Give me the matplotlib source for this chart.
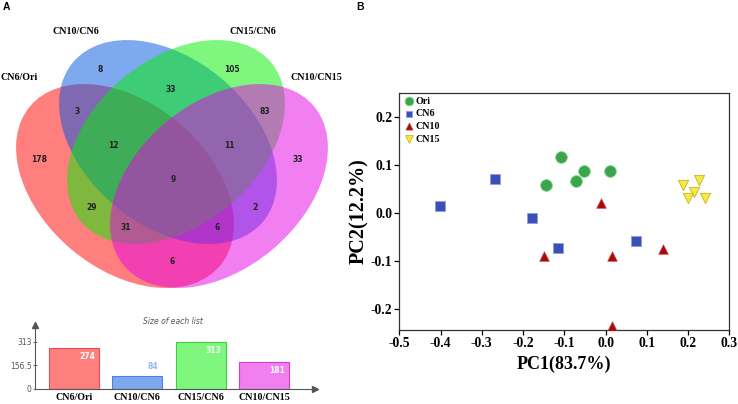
import matplotlib
matplotlib.use("Agg")
import matplotlib.pyplot as plt
from matplotlib.patches import Ellipse

# ---------------- data ----------------
set_names = ["CN6/Ori", "CN10/CN6", "CN15/CN6", "CN10/CN15"]
list_sizes = [274, 84, 313, 181]
size_ticks = [0, 156.5, 313]

# Venn region codes (membership in set1..set4) and counts
region_codes = ["1000", "0100", "0010", "0001", "1100", "0110", "0011",
                "1110", "0111", "1111", "1010", "0101", "1011", "1101", "1001"]
region_counts = [178, 8, 105, 33, 3, 33, 83, 12, 11, 9, 29, 2, 31, 6, 6]

ori_pc1 = [-0.107, -0.052, -0.072, -0.145, 0.010]
ori_pc2 = [0.117, 0.088, 0.068, 0.058, 0.088]
cn6_pc1 = [-0.267, -0.401, -0.178, -0.115, 0.074]
cn6_pc2 = [0.072, 0.015, -0.010, -0.073, -0.057]
cn10_pc1 = [-0.010, -0.149, 0.016, 0.139, 0.016]
cn10_pc2 = [0.021, -0.089, -0.089, -0.075, -0.234]
cn15_pc1 = [0.187, 0.227, 0.214, 0.201, 0.241]
cn15_pc2 = [0.060, 0.069, 0.045, 0.031, 0.031]

# ---------------- layout / style ----------------
W, H = 738, 404
fig = plt.figure(figsize=(W / 100, H / 100), dpi=100)
ov = fig.add_axes([0, 0, 1, 1])
ov.set_xlim(0, W)
ov.set_ylim(H, 0)
ov.axis("off")

serif = "Liberation Serif"
sans = "DejaVu Sans"

venn_colors = ["#ff0000", "#0055e1", "#00f000", "#e600e6"]
ell_centers = [(125, 186), (168, 142), (176, 142), (219, 186)]
ell_angles = [40, 40, -40, -40]
for c, (cx, cy), ang in zip(venn_colors, ell_centers, ell_angles):
    ov.add_patch(Ellipse((cx, cy), 248, 166, angle=ang, facecolor=c,
                         alpha=0.5, edgecolor="none"))

region_pos = {"1000": (39, 159), "0100": (100, 70), "0010": (232, 70),
              "0001": (298, 159), "1100": (77, 111), "0110": (171, 90),
              "0011": (265, 111), "1110": (113, 146), "0111": (229, 146),
              "1111": (173, 180), "1010": (92, 207), "0101": (255, 207),
              "1011": (126, 228), "1101": (217, 228), "1001": (172, 262)}
for code, n in zip(region_codes, region_counts):
    x, y = region_pos[code]
    ov.text(x, y, str(n), ha="center", va="center", fontsize=5.5,
            fontweight="bold", family=sans, color="#222222")

name_pos = [(19, 77), (76, 31), (253, 31), (316, 77)]
for name, (x, y) in zip(set_names, name_pos):
    ov.text(x, y, name, ha="center", va="center", fontsize=7.2,
            fontweight="bold", family=serif, color="black")

ov.text(6.5, 6.5, "A", ha="center", va="center", fontsize=7.5,
        fontweight="bold", family="Liberation Sans")
ov.text(360, 6.5, "B", ha="center", va="center", fontsize=7.5,
        fontweight="bold", family="Liberation Sans")

# ---------------- bar chart ----------------
bl, br, bb, bt = 35, 315, 389, 325
bax = fig.add_axes([bl / W, (H - bb) / H, (br - bl) / W, (bb - bt) / H])
bax.patch.set_alpha(0)
xpos = list(range(len(list_sizes)))
bar_edges = ["#e05050", "#4d80e0", "#40d040", "#d040d0"]
bax.bar(xpos, list_sizes, width=0.79, color=venn_colors, alpha=0.5,
        edgecolor="none")
bax.bar(xpos, list_sizes, width=0.79, color="none", edgecolor=bar_edges,
        linewidth=0.8)
bax.set_xlim(-0.616, 3.806)
bax.set_ylim(0, 423.5)
for s in ["top", "right"]:
    bax.spines[s].set_visible(False)
for s in ["left", "bottom"]:
    bax.spines[s].set_color("#555555")
    bax.spines[s].set_linewidth(0.8)
bax.plot(1, 0, ">", color="#555555", ms=4, transform=bax.transAxes,
         clip_on=False)
bax.plot(0, 1, "^", color="#555555", ms=4, transform=bax.transAxes,
         clip_on=False)
bax.set_yticks(size_ticks)
bax.set_yticklabels(["0", "156.5", "313"])
bax.tick_params(axis="y", direction="inout", length=3, width=0.6,
                color="#555555", labelsize=5.5, labelcolor="#555555", pad=1)
bax.set_xticks(xpos)
bax.set_xticklabels(set_names, fontsize=7.2, fontweight="bold", family=serif)
bax.tick_params(axis="x", length=0, pad=3)
for lab in bax.get_yticklabels():
    lab.set_family(sans)
for i, v in enumerate(list_sizes):
    if v > 120:
        bax.annotate(str(v), xy=(i + 0.395, v), xytext=(-3, -3),
                     textcoords="offset points", ha="right", va="top",
                     fontsize=5.5, fontweight="bold", color="white", family=sans)
    else:
        bax.annotate(str(v), xy=(i + 0.395, v), xytext=(-3, 4),
                     textcoords="offset points", ha="right", va="bottom",
                     fontsize=5.5, fontweight="bold", color="#9bb8f2", family=sans)
ov.text(173, 322, "Size of each list", ha="center", va="center", fontsize=5.5,
        style="italic", color="#555555", family=sans)

# ---------------- PCA ----------------
pl, pr, pb, pt = 399.3, 729.3, 330, 93
pax = fig.add_axes([pl / W, (H - pb) / H, (pr - pl) / W, (pb - pt) / H])
pax.scatter(ori_pc1, ori_pc2, s=72, marker="o", color="#3aa54a",
            edgecolor="#8fd49a", linewidth=0.6, label="Ori", zorder=3)
pax.scatter(cn6_pc1, cn6_pc2, s=42, marker="s", color="#3b4fb8",
            edgecolor="#8e9ce0", linewidth=0.6, label="CN6", zorder=3)
pax.scatter(cn10_pc1, cn10_pc2, s=48, marker="^", color="#a80a0a",
            edgecolor="#c85050", linewidth=0.5, label="CN10", zorder=3)
pax.scatter(cn15_pc1, cn15_pc2, s=55, marker="v", color="#f7e845",
            edgecolor="#c9b41c", linewidth=0.6, label="CN15", zorder=3)
pax.set_xlim(-0.5, 0.3)
pax.set_ylim(-0.243, 0.2506)
xt = [-0.5, -0.4, -0.3, -0.2, -0.1, 0.0, 0.1, 0.2, 0.3]
yt = [-0.2, -0.1, 0.0, 0.1, 0.2]
pax.set_xticks(xt)
pax.set_yticks(yt)
pax.set_xticklabels(["%.1f" % t for t in xt])
pax.set_yticklabels(["%.1f" % t for t in yt])
pax.tick_params(direction="out", length=3.5, width=0.9, labelsize=9.8, pad=1.5,
                top=False, right=False)
for lab in pax.get_xticklabels() + pax.get_yticklabels():
    lab.set_family(serif)
    lab.set_fontweight("bold")
for s in pax.spines.values():
    s.set_linewidth(0.9)
    s.set_color("#333333")
pax.set_xlabel("PC1(83.7%)", fontsize=13, fontweight="bold", family=serif,
               labelpad=4)
pax.set_ylabel("PC2(12.2%)", fontsize=14.5, fontweight="bold", family=serif,
               labelpad=1)
pax.legend(loc="upper left", frameon=False, borderaxespad=0.2,
           prop={"family": serif, "weight": "bold", "size": 7.2},
           handletextpad=0.05, labelspacing=0.35, markerscale=0.75,
           handlelength=1.2, borderpad=0.2)

fig.savefig("out.png", dpi=100)
